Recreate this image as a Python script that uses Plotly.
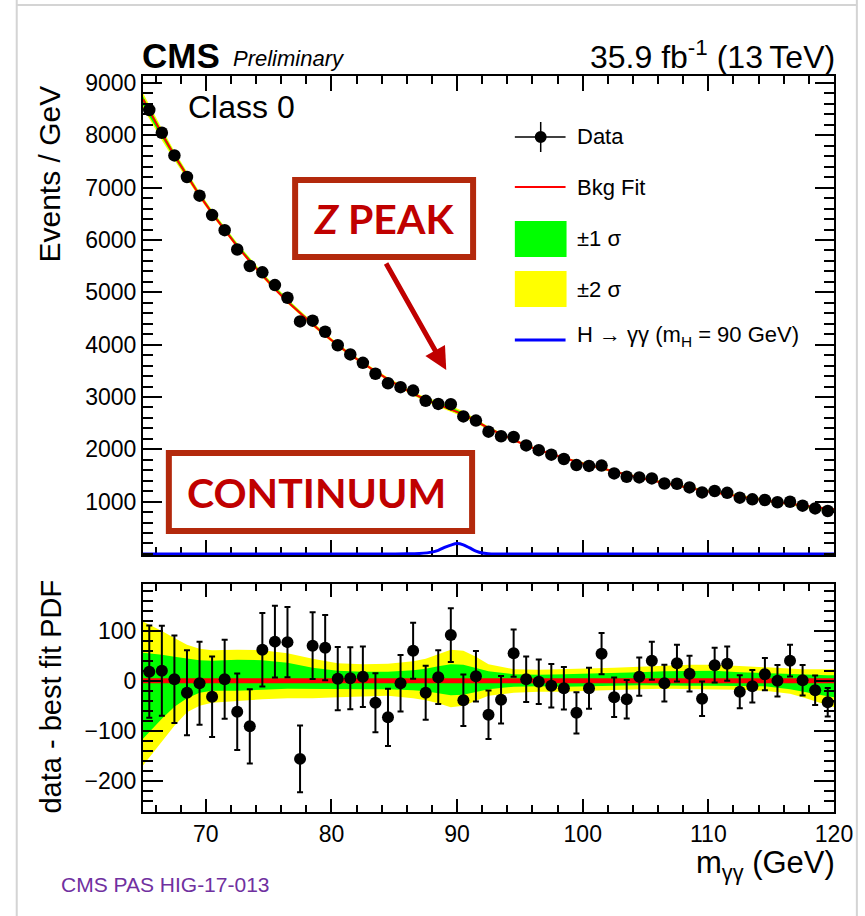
import numpy as np
import plotly.graph_objects as go

# ---------------------------------------------------------------- data
# 1 GeV bins of diphoton mass between 65 and 120 GeV
BIN_LO, BIN_HI, BIN_W = 65.0, 120.0, 1.0
bin_centers = np.arange(BIN_LO + BIN_W / 2, BIN_HI, BIN_W)

# observed events per GeV in each bin
data_events = [8484, 8050, 7616, 7204, 6847, 6476, 6188, 5818, 5503, 5382,
               5138, 4897, 4444, 4458, 4246, 3989, 3813, 3653, 3444, 3263,
               3187, 3122, 2926, 2867, 2863, 2629, 2549, 2337, 2250, 2235,
               2075, 1984, 1898, 1815, 1698, 1682, 1689, 1539, 1475, 1463,
               1443, 1347, 1341, 1272, 1176, 1203, 1168, 1076, 1044, 1031,
               988, 998, 923, 871, 821]

# background fit (continuum + Z peak), at the range edges and bin centres
fit_x = [BIN_LO] + list(bin_centers) + [BIN_HI]
fit_y = [8690, 8466, 8030, 7613, 7228, 6852, 6508, 6185, 5880, 5594, 5320,
         5060, 4820, 4600, 4388, 4180, 3985, 3808, 3645, 3488, 3336,
         3192, 3062, 2950, 2860, 2772, 2668, 2540, 2405, 2288, 2180,
         2072, 1986, 1908, 1830, 1762, 1697, 1635, 1572, 1512, 1455,
         1403, 1352, 1306, 1258, 1212, 1172, 1134, 1098, 1055, 1018,
         988, 958, 922, 890, 864, 852]

# fit uncertainty bands relative to the fit (events / GeV)
band_x = [65.0, 65.5, 66.5, 67.5, 68.5, 69.5, 70.5, 72.5, 74.5, 76.5, 78.5,
          80.5, 82.5, 84.5, 86.5, 87.5, 88.5, 89.5, 90.5, 91.5, 92.5, 94.5,
          96.5, 98.5, 100.5, 102.5, 104.5, 106.5, 108.5, 110.5, 112.5, 114.5,
          116.5, 117.5, 118.5, 119.5, 120.0]
band_up2 = [118, 112, 99, 85, 72, 64, 61, 62, 61, 55, 44,
            35, 33, 34, 39, 44, 53, 62, 60, 48, 33, 23,
            22, 23, 24, 26, 28, 30, 32, 32, 29, 26,
            23, 23, 23, 23, 23]
band_up1 = [56, 55, 52, 48, 44, 41, 40, 42, 41, 36, 26,
            20, 18, 18, 21, 24, 29, 33, 32, 26, 19, 13,
            12, 13, 14, 16, 17, 19, 20, 20, 17, 15,
            13, 12, 12, 11, 11]
band_lo1 = [-116, -102, -76, -52, -35, -24, -20, -20, -18, -16, -16,
            -17, -17, -17, -19, -21, -25, -29, -28, -22, -17, -12,
            -11, -12, -11, -10, -9, -9, -10, -10, -10, -11,
            -17, -21, -26, -31, -33]
band_lo2 = [-169, -155, -122, -90, -63, -50, -44, -40, -37, -35, -35,
            -33, -31, -30, -35, -39, -45, -53, -50, -40, -30, -24,
            -22, -22, -20, -18, -17, -16, -17, -17, -18, -20,
            -26, -33, -40, -49, -53]

# H -> gamma gamma signal shape for m_H = 90 GeV
sig_x = [65.0, 85.0, 86.0, 87.0, 88.0, 88.5, 89.0, 89.5, 90.0, 90.5,
         91.0, 91.5, 92.0, 92.5, 93.0, 120.0]
sig_y = [0, 0, 2, 10, 35, 70, 125, 170, 200, 175,
         115, 55, 18, 5, 0, 0]

# tick labels
x_ticks = [70, 80, 90, 100, 110, 120]
top_y_ticks = [1000, 2000, 3000, 4000, 5000, 6000, 7000, 8000, 9000]
bot_y_ticks = [-200, -100, 0, 100]
bot_y_text = ["\u2212200", "\u2212100", "0", "100"]

# ---------------------------------------------------------------- derived
data_arr = np.array(data_events, dtype=float)
data_err = np.sqrt(data_arr)                       # Poisson uncertainty
fit_at = {round(x, 2): y for x, y in zip(fit_x, fit_y)}
fit_bins = np.array([fit_at[round(x, 2)] for x in bin_centers], dtype=float)
residual = data_arr - fit_bins
fit_nodes = np.array([fit_at[round(x, 2)] for x in band_x], dtype=float)
bx = np.array(band_x)

# ---------------------------------------------------------------- layout geometry
W, H = 865, 916
PL, PR, PT, PB = 143, 838, 76, 812           # plot area in pixels
TOP_BOTTOM_PX, BOT_TOP_PX = 555, 584


def px(x):
    return (x - PL) / (PR - PL)


def py(y):
    return (PB - y) / (PB - PT)


FONT = "Liberation Sans, Arial, Helvetica, sans-serif"
BOX_FONT = "Lato, Carlito, Calibri, sans-serif"
YELLOW, GREEN, RED, BLUE = "#FFFF00", "#00FF00", "#FF0000", "#0000FF"
BOX_EDGE, BOX_TEXT = "#B3290C", "#C00000"


def poly(x, lo, hi):
    return list(x) + list(x[::-1]), list(hi) + list(lo[::-1])


fig = go.Figure()

# ---- upper panel
for up, lo, col in ((band_up2, band_lo2, YELLOW), (band_up1, band_lo1, GREEN)):
    xs, ys = poly(bx, fit_nodes + np.array(lo), fit_nodes + np.array(up))
    fig.add_trace(go.Scatter(x=xs, y=ys, fill="toself", fillcolor=col,
                             mode="lines", line=dict(width=0),
                             xaxis="x2", yaxis="y2", hoverinfo="skip"))
fig.add_trace(go.Scatter(x=fit_x, y=fit_y, mode="lines",
                         line=dict(color=RED, width=2),
                         xaxis="x2", yaxis="y2"))
fig.add_trace(go.Scatter(x=sig_x, y=sig_y, mode="lines",
                         line=dict(color=BLUE, width=3, shape="spline",
                                   smoothing=0.8),
                         xaxis="x2", yaxis="y2"))
fig.add_trace(go.Scatter(x=bin_centers, y=data_arr, mode="markers",
                         marker=dict(color="black", size=12.5),
                         error_y=dict(type="data", array=data_err,
                                      color="black", thickness=2, width=0),
                         xaxis="x2", yaxis="y2"))

# ---- lower panel (data - fit)
for up, lo, col in ((band_up2, band_lo2, YELLOW), (band_up1, band_lo1, GREEN)):
    xs, ys = poly(bx, np.array(lo), np.array(up))
    fig.add_trace(go.Scatter(x=xs, y=ys, fill="toself", fillcolor=col,
                             mode="lines", line=dict(width=0),
                             xaxis="x", yaxis="y", hoverinfo="skip"))
fig.add_trace(go.Scatter(x=fit_x, y=np.array(fit_y) - np.array(fit_y),
                         mode="lines", line=dict(color=RED, width=5),
                         xaxis="x", yaxis="y"))
fig.add_trace(go.Scatter(x=bin_centers, y=residual, mode="markers",
                         marker=dict(color="black", size=12),
                         error_y=dict(type="data", array=data_err,
                                      color="black", thickness=2, width=3),
                         xaxis="x", yaxis="y"))

# ---------------------------------------------------------------- axes
common = dict(showline=True, linecolor="black", linewidth=2, mirror="allticks",
              ticks="inside", tickcolor="black", tickwidth=1.5,
              showgrid=False, zeroline=False,
              tickfont=dict(family=FONT, size=23, color="black"))

fig.update_layout(
    xaxis=dict(common, range=[BIN_LO, BIN_HI], tickmode="array",
               tickvals=x_ticks, ticklen=13, anchor="y",
               minor=dict(ticks="inside", ticklen=7, tickmode="linear",
                          tick0=0, dtick=2, tickcolor="black", tickwidth=1.5,
                          showgrid=False)),
    yaxis=dict(common, range=[-262, 193], tickmode="array",
               tickvals=bot_y_ticks, ticktext=bot_y_text, ticklen=20,
               domain=[0, py(BOT_TOP_PX)], anchor="x",
               minor=dict(ticks="inside", ticklen=10, tickmode="linear",
                          tick0=0, dtick=20, tickcolor="black", tickwidth=1.5,
                          showgrid=False)),
    xaxis2=dict(common, range=[BIN_LO, BIN_HI], tickmode="array",
                tickvals=x_ticks, ticklen=15, anchor="y2", matches="x",
                showticklabels=False, layer="below traces",
                minor=dict(ticks="inside", ticklen=8, tickmode="linear",
                           tick0=0, dtick=2, tickcolor="black", tickwidth=1.5,
                           showgrid=False)),
    yaxis2=dict(common, range=[-20, 9134], tickmode="array",
                tickvals=top_y_ticks, ticklen=19,
                domain=[py(TOP_BOTTOM_PX), 1], anchor="x2",
                minor=dict(ticks="inside", ticklen=10, tickmode="linear",
                           tick0=0, dtick=200, tickcolor="black",
                           tickwidth=1.5, showgrid=False)),
    width=W, height=H,
    margin=dict(l=PL, r=W - PR, t=PT, b=H - PB, pad=0),
    paper_bgcolor="white", plot_bgcolor="white",
    showlegend=False,
)

# ---------------------------------------------------------------- text
annotations = []


def text(x, y, s, size, xanchor="left", yanchor="middle", color="black",
         family=FONT, angle=0):
    annotations.append(dict(x=px(x), y=py(y), xref="paper", yref="paper",
                            text=s, showarrow=False, xanchor=xanchor,
                            yanchor=yanchor, textangle=angle, borderpad=0,
                            font=dict(family=family, size=size, color=color)))


text(141, 55, "<b>CMS</b>", 35)
text(233, 58, "<i>Preliminary</i>", 22)
text(840, 55, "35.9 fb<sup>-1</sup> (13\u2009TeV)", 32, xanchor="right")
text(187, 107, "Class 0", 32)
text(48, 174, "Events / GeV", 30, xanchor="center", angle=-90)
text(50, 697, "data - best fit PDF", 29, xanchor="center", angle=-90)
text(840, 865, "m<sub>\u03b3\u03b3</sub> (GeV)", 31, xanchor="right")
text(60, 884, "CMS PAS HIG-17-013", 21, color="#7030A0")

# legend
legend_rows = [(137, "Data"), (187, "Bkg Fit"), (239, "\u00b11 \u03c3"),
               (289, "\u00b12 \u03c3"),
               (336, "H \u2192 \u03b3\u03b3 (m<sub>H</sub> = 90 GeV)")]
for yy, s in legend_rows:
    text(579, yy, s, 22)

# highlight labels and arrow
text(385, 219, "<b><i>Z</i> PEAK</b>", 41, xanchor="center", color=BOX_TEXT,
     family=BOX_FONT)
text(318, 492, "<b>CONTINUUM</b>", 41, xanchor="center", color=BOX_TEXT,
     family=BOX_FONT)
annotations.append(dict(x=px(448), y=py(370), xref="paper", yref="paper",
                        ax=387 - 448, ay=262 - 370, axref="pixel",
                        ayref="pixel", text="", showarrow=True,
                        arrowhead=2, arrowsize=0.9, arrowwidth=5,
                        arrowcolor=BOX_TEXT))

fig.update_layout(annotations=annotations)

# ---------------------------------------------------------------- shapes
shapes = []


def rect(x0, y0, x1, y1, fill=None, line=None, lw=0):
    shapes.append(dict(type="rect", xref="paper", yref="paper",
                       x0=px(x0), x1=px(x1), y0=py(y1), y1=py(y0),
                       fillcolor=fill, layer="above",
                       line=dict(color=line or "rgba(0,0,0,0)", width=lw)))


def seg(x0, y0, x1, y1, color, lw):
    shapes.append(dict(type="line", xref="paper", yref="paper",
                       x0=px(x0), x1=px(x1), y0=py(y0), y1=py(y1),
                       layer="above", line=dict(color=color, width=lw)))


# slide frame
seg(16, 0, 16, H, "#D4D4D4", 2)
seg(861, 0, 861, H, "#D4D4D4", 2)
seg(16, 5, 861, 5, "#D4D4D4", 2)

# legend symbols
seg(517, 137, 568, 137, "black", 1.5)
seg(543, 122, 543, 152, "black", 1.5)
shapes.append(dict(type="circle", xref="paper", yref="paper",
                   x0=px(537), x1=px(549), y0=py(143), y1=py(131),
                   fillcolor="black", line=dict(color="black", width=0),
                   layer="above"))
seg(517, 187, 568, 187, RED, 2)
rect(517, 221, 569, 257, fill=GREEN)
rect(517, 271, 569, 307, fill=YELLOW)
seg(517, 340, 568, 340, BLUE, 3)

# highlight boxes
rect(296, 180, 475, 257, fill="rgba(255,255,255,0)", line=BOX_EDGE, lw=6)
rect(169, 453, 474, 531, fill="rgba(255,255,255,0)", line=BOX_EDGE, lw=6)

fig.update_layout(shapes=shapes)

fig.write_html("out.html")
